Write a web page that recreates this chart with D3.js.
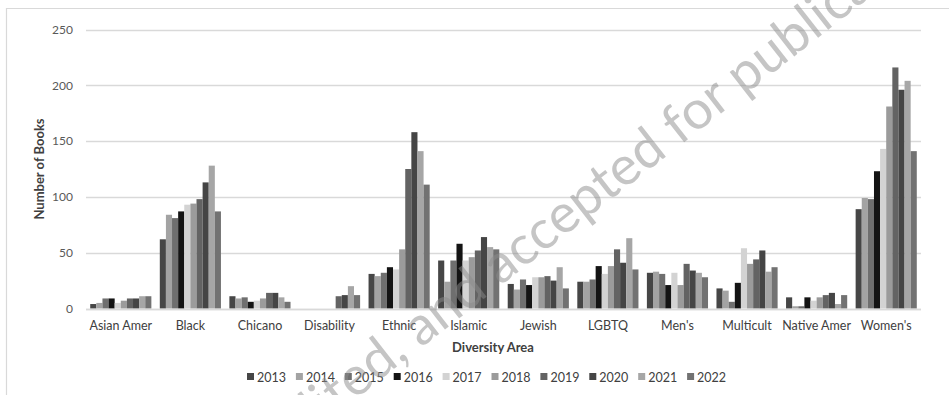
<!DOCTYPE html>
<html>
<head>
<meta charset="utf-8">
<script src="https://cdn.jsdelivr.net/npm/d3@7"></script>
<style>
  html, body { margin: 0; padding: 0; background: #fff; }
  svg { display: block; font-family: Lato, "Open Sans", sans-serif; }
</style>
</head>
<body>
<svg id="chart" width="949" height="395"></svg>
<script>
// Diversity areas along the x axis
const categories = ["Asian Amer", "Black", "Chicano", "Disability", "Ethnic", "Islamic",
  "Jewish", "LGBTQ", "Men's", "Multicult", "Native Amer", "Women's"];

// Publication years (one bar per year in every area)
const years = ["2013", "2014", "2015", "2016", "2017", "2018", "2019", "2020", "2021", "2022"];

// Number of books per area, one list per year
const v2013 = [4, 62, 11, 0, 31, 43, 22, 24, 32, 18, 10, 89];
const v2014 = [5, 84, 9, 0, 29, 24, 17, 24, 33, 16, 2, 99];
const v2015 = [9, 81, 10, 0, 32, 43, 26, 26, 31, 6, 2, 98];
const v2016 = [9, 87, 6, 0, 37, 58, 21, 38, 21, 23, 10, 123];
const v2017 = [5, 93, 7, 0, 35, 43, 28, 31, 32, 54, 7, 143];
const v2018 = [7, 94, 9, 0, 53, 46, 28, 38, 21, 40, 10, 181];
const v2019 = [9, 98, 14, 11, 125, 52, 29, 53, 40, 44, 12, 216];
const v2020 = [9, 113, 14, 12, 158, 64, 25, 41, 34, 52, 14, 196];
const v2021 = [11, 128, 10, 20, 141, 55, 37, 63, 32, 33, 4, 204];
const v2022 = [11, 87, 6, 12, 111, 53, 18, 35, 28, 37, 12, 141];
const seriesValues = [v2013, v2014, v2015, v2016, v2017, v2018, v2019, v2020, v2021, v2022];

// Value axis ticks
const yTicks = [0, 50, 100, 150, 200, 250];

// Grey shade per year
const colors = ["#464646", "#a3a3a3", "#6f6f6f", "#141414", "#d3d3d3",
  "#9b9b9b", "#636363", "#454545", "#a6a6a6", "#727272"];

const svg = d3.select("#chart");
const W = 949, H = 395;
const plot = { left: 86, right: 921, top: 29.5, bottom: 308.5 };

// outer chart frame (left and top edges visible)
svg.append("path")
  .attr("d", `M6.5,${H} V8.5 H${W}`)
  .attr("fill", "none")
  .attr("stroke", "#d9d9d9")
  .attr("stroke-width", 1.2);

const x0 = d3.scaleBand().domain(categories).range([plot.left, plot.right]).paddingInner(0).paddingOuter(0);
const x1 = d3.scaleBand().domain(years).range([0, x0.bandwidth()]).paddingOuter(0.69).paddingInner(0);
const y = d3.scaleLinear().domain([0, 250]).range([plot.bottom, plot.top]);

// gridlines
const grid = svg.append("g");
grid.selectAll("line").data(yTicks).join("line")
  .attr("x1", plot.left).attr("x2", plot.right)
  .attr("y1", d => Math.round(y(d)) + 0.5).attr("y2", d => Math.round(y(d)) + 0.5)
  .attr("stroke", "#d9d9d9").attr("stroke-width", 1.3);

// y axis labels
const yAxis = d3.axisLeft(y).tickValues(yTicks).tickSize(0).tickPadding(0);
const yg = svg.append("g").attr("transform", `translate(${plot.left - 13},0)`).call(yAxis);
yg.select(".domain").remove();
yg.selectAll("text").attr("font-size", 12).attr("fill", "#595959").attr("font-family", "Lato, sans-serif");

// bars
const groups = svg.append("g").selectAll("g").data(categories).join("g")
  .attr("transform", d => `translate(${x0(d)},0)`);
groups.selectAll("rect")
  .data((c, ci) => years.map((yr, yi) => ({ yr, yi, v: seriesValues[yi][ci] })))
  .join("rect")
  .attr("x", d => x1(d.yr))
  .attr("width", x1.bandwidth())
  .attr("y", d => y(d.v))
  .attr("height", d => y(0) - y(d.v))
  .attr("fill", d => colors[d.yi]);

// baseline over bars
svg.append("line")
  .attr("x1", plot.left).attr("x2", plot.right)
  .attr("y1", Math.round(y(0)) + 0.5).attr("y2", Math.round(y(0)) + 0.5)
  .attr("stroke", "#d9d9d9").attr("stroke-width", 1.3);

// category labels
const xAxis = d3.axisBottom(x0).tickSize(0).tickPadding(0);
const xg = svg.append("g").attr("transform", `translate(0,${plot.bottom + 13})`).call(xAxis);
xg.select(".domain").remove();
xg.selectAll("text").attr("font-size", 12.5).attr("fill", "#404040").attr("font-family", "Lato, sans-serif");

// axis titles
svg.append("text")
  .attr("x", 493).attr("y", 352)
  .attr("text-anchor", "middle")
  .attr("font-size", 13).attr("font-weight", "bold").attr("fill", "#404040")
  .text("Diversity Area");

svg.append("text")
  .attr("transform", `translate(44,${(plot.top + plot.bottom) / 2}) rotate(-90)`)
  .attr("text-anchor", "middle")
  .attr("font-size", 13).attr("font-weight", "bold").attr("fill", "#404040")
  .text("Number of Books");

// legend
const legend = svg.append("g").attr("transform", "translate(247,377)");
const items = legend.selectAll("g").data(years).join("g")
  .attr("transform", (d, i) => `translate(${i * 48.9},0)`);
items.append("rect")
  .attr("x", 0).attr("y", -4).attr("width", 7).attr("height", 7)
  .attr("fill", (d, i) => colors[i]);
items.append("text")
  .attr("x", 10).attr("y", 4.5)
  .attr("font-size", 12.5).attr("fill", "#404040")
  .text(d => d);

// diagonal publication stamp laid over the chart
const stamp = svg.append("text")
  .attr("font-size", 54)
  .attr("fill", "#8c8c8c")
  .attr("fill-opacity", 0.5)
  .attr("dominant-baseline", "central")
  .attr("font-family", "Lato, sans-serif")
  .text("edited, and accepted for publication");
const node = stamp.node();
const idx = node.textContent.indexOf("accepted");
const s = node.getStartPositionOfChar(idx).x;
const e = node.getEndPositionOfChar(idx + 7).x;
stamp.attr("x", -(s + e) / 2).attr("transform", "translate(572,204) rotate(-38)");
</script>
</body>
</html>
